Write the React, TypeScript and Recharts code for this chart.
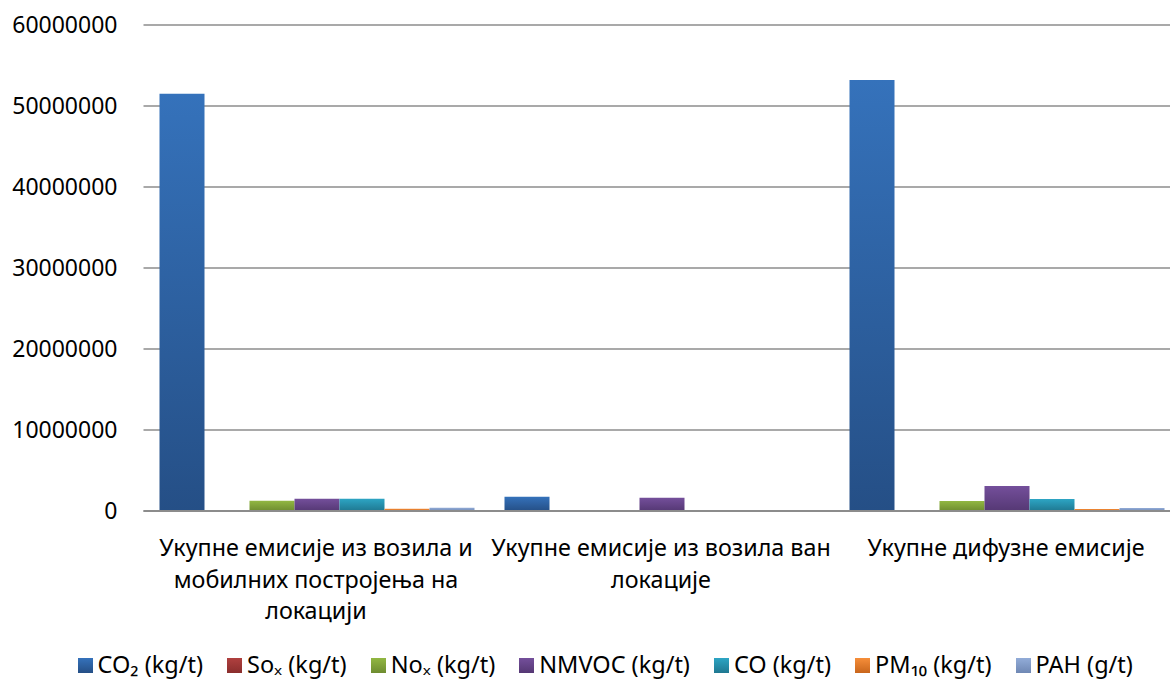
import { Bar, BarChart, CartesianGrid, Legend, XAxis, YAxis } from "recharts";

const categories = [
  "Укупне емисије из возила и мобилних постројења на локацији",
  "Укупне емисије из возила ван локације",
  "Укупне дифузне емисије",
];
const categoryLines = [
  ["Укупне емисије из возила и", "мобилних постројења на", "локацији"],
  ["Укупне емисије из возила ван", "локације"],
  ["Укупне дифузне емисије"],
];

const co2 = [51500000, 1770000, 53200000];
const sox = [120000, 0, 120000];
const nox = [1270000, 0, 1230000];
const nmvoc = [1520000, 1640000, 3090000];
const co = [1520000, 0, 1480000];
const pm10 = [280000, 0, 250000];
const pah = [410000, 0, 370000];

const yTicks = [0, 10000000, 20000000, 30000000, 40000000, 50000000, 60000000];

const series = [
  { key: "co2", name: "CO₂ (kg/t)", top: "#3572BB", bottom: "#254F86" },
  { key: "sox", name: "Soₓ (kg/t)", top: "#B0403F", bottom: "#8A2E2D" },
  { key: "nox", name: "Noₓ (kg/t)", top: "#92B742", bottom: "#6E8C30" },
  { key: "nmvoc", name: "NMVOC (kg/t)", top: "#744F9B", bottom: "#553874" },
  { key: "co", name: "CO (kg/t)", top: "#2DA5C4", bottom: "#1F7891" },
  { key: "pm10", name: "PM₁₀ (kg/t)", top: "#F68E3A", bottom: "#C9661C" },
  { key: "pah", name: "PAH (g/t)", top: "#92ACD8", bottom: "#6F88B4" },
];

const data = categories.map((c, i) => ({
  category: c,
  co2: co2[i],
  sox: sox[i],
  nox: nox[i],
  nmvoc: nmvoc[i],
  co: co[i],
  pm10: pm10[i],
  pah: pah[i],
}));

const font = "'Noto Sans', sans-serif";

function CategoryTick({ x, y, index }: any) {
  const lines = categoryLines[index] ?? [];
  return (
    <text x={x} y={y} textAnchor="middle" fontFamily={font} fontSize={23.3} fill="#000">
      {lines.map((l, i) => (
        <tspan key={i} x={x} dy={i === 0 ? 37 : 31.5}>
          {l}
        </tspan>
      ))}
    </text>
  );
}

function LegendContent() {
  return (
    <div
      style={{
        height: 40,
        boxSizing: "border-box",
        paddingTop: 12,
        paddingLeft: 32,
        display: "flex",
        justifyContent: "center",
        alignItems: "center",
        fontFamily: font,
        fontSize: 23.5,
        lineHeight: 1,
        color: "#000",
        gap: 24,
        whiteSpace: "nowrap",
      }}
    >
      {series.map((s) => (
        <span key={s.key} style={{ display: "flex", alignItems: "center" }}>
          <span
            style={{
              width: 15,
              height: 15,
              marginRight: 5,
              background: `linear-gradient(${s.top}, ${s.bottom})`,
              display: "inline-block",
            }}
          />
          {s.name}
        </span>
      ))}
    </div>
  );
}

export default function App() {
  return (
    <div
      style={{
        position: "absolute",
        top: 0,
        left: 0,
        width: 1170,
        height: 679,
        overflow: "hidden",
        background: "#fff",
      }}
    >
      <BarChart
        width={1180}
        height={679}
        data={data}
        margin={{ top: 25, right: 1.5, left: 0, bottom: 0 }}
        barCategoryGap={16}
        barGap={0}
      >
        <defs>
          {series.map((s) => (
            <linearGradient key={s.key} id={`g-${s.key}`} x1="0" y1="0" x2="0" y2="1">
              <stop offset="0%" stopColor={s.top} />
              <stop offset="100%" stopColor={s.bottom} />
            </linearGradient>
          ))}
        </defs>
        <CartesianGrid vertical={false} stroke="#8c8c8c" strokeWidth={1.3} />
        <XAxis
          dataKey="category"
          height={128}
          tickLine={false}
          axisLine={{ stroke: "#8c8c8c", strokeWidth: 2 }}
          tick={<CategoryTick />}
          interval={0}
        />
        <YAxis
          width={143.5}
          domain={[0, 60000000]}
          ticks={yTicks}
          tickLine={false}
          axisLine={false}
          tickMargin={20}
          tick={{ fontFamily: font, fontSize: 23, fill: "#000" }}
        />
        <Legend verticalAlign="bottom" content={<LegendContent />} />
        {series.map((s) => (
          <Bar
            key={s.key}
            dataKey={s.key}
            name={s.name}
            fill={`url(#g-${s.key})`}
            isAnimationActive={false}
          />
        ))}
      </BarChart>
    </div>
  );
}
